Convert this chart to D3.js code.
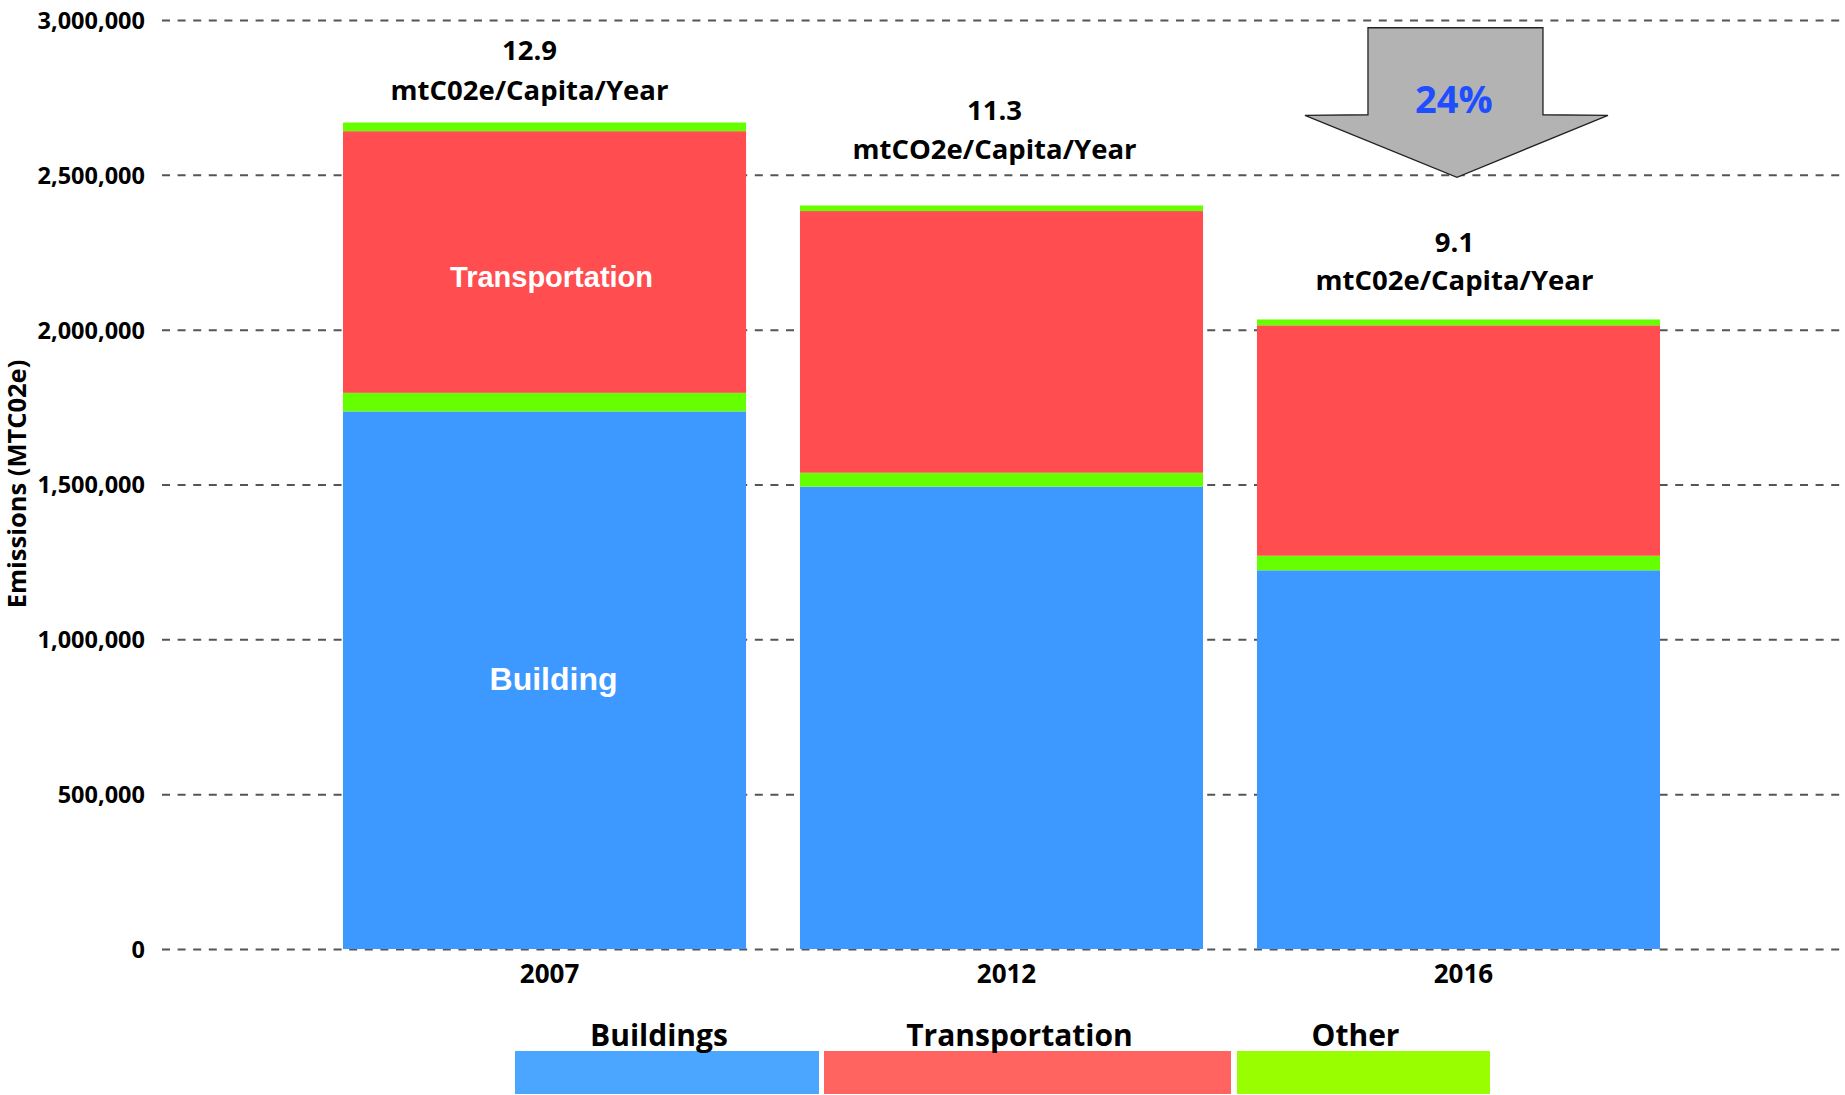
<!DOCTYPE html>
<html>
<head>
<meta charset="utf-8">
<script src="https://cdn.jsdelivr.net/npm/d3@7"></script>
<style>
  html, body { margin: 0; padding: 0; background: #fff; }
  svg { display: block; }
  text { font-family: "Open Sans", "Noto Sans", sans-serif; font-weight: 700; }
</style>
</head>
<body>
<svg id="chart" width="1845" height="1095"></svg>
<script>
// ---- data ----
const years = ["2007", "2012", "2016"];
const buildings      = [1736000, 1493000, 1223000];
const otherLower     = [60000, 45000, 47000];
const transportation = [845000, 845000, 744000];
const otherUpper     = [28000, 18000, 19000];
const perCapita      = ["12.9", "11.3", "9.1"];
const perCapitaUnits = ["mtC02e/Capita/Year", "mtCO2e/Capita/Year", "mtC02e/Capita/Year"];
const yTicks = [0, 500000, 1000000, 1500000, 2000000, 2500000, 3000000];
const legendLabels = ["Buildings", "Transportation", "Other"];
const reductionLabel = "24%";
const yTitle = "Emissions (MTC02e)";

// ---- layout ----
const W = 1845, H = 1095;
const svg = d3.select("#chart");
const colors = { buildings: "#3d99ff", otherLower: "#66ff00", transportation: "#ff4d50", otherUpper: "#66ff00" };
const legendColors = ["#4aa6ff", "#ff6461", "#99ff00"];

const x = d3.scaleBand().domain(years).range([343, 1660]).paddingInner(0.118).paddingOuter(0);
const y = d3.scaleLinear().domain([0, 3000000]).range([949, 20]);

// grid + y axis
const yAxis = d3.axisLeft(y).tickValues(yTicks).tickFormat(d3.format(",")).tickSize(-(W - 162)).tickPadding(17);
const gy = svg.append("g").attr("transform", "translate(162,0)").call(yAxis);
gy.select(".domain").remove();
gy.selectAll(".tick line").attr("stroke", "#555").attr("stroke-width", 2).attr("stroke-dasharray", "8,7.6");
gy.selectAll(".tick text").attr("fill", "#000").style("font-size", "23.5px").attr("dy", "0.36em");

// stacked bars
const keys = ["buildings", "otherLower", "transportation", "otherUpper"];
const rows = years.map((yr, i) => ({ year: yr, buildings: buildings[i], otherLower: otherLower[i], transportation: transportation[i], otherUpper: otherUpper[i] }));
const series = d3.stack().keys(keys)(rows);
svg.append("g").selectAll("g").data(series).join("g")
  .attr("fill", d => colors[d.key])
  .selectAll("rect").data(d => d).join("rect")
  .attr("x", d => x(d.data.year))
  .attr("width", x.bandwidth())
  .attr("y", d => y(d[1]))
  .attr("height", d => y(d[0]) - y(d[1]));

// x axis labels
const xAxis = d3.axisBottom(x).tickSize(0).tickPadding(16);
const gx = svg.append("g").attr("transform", "translate(5,949)").call(xAxis);
gx.select(".domain").remove();
gx.selectAll(".tick text").attr("fill", "#000").style("font-size", "26px");

// in-bar labels (2007 bar)
const b0 = x(years[0]) + x.bandwidth() / 2;
svg.append("text").attr("x", b0 + 7).attr("y", 287)
  .attr("text-anchor", "middle").attr("fill", "#fff")
  .style("font-family", "'Liberation Sans', Arial, sans-serif").style("font-size", "29px")
  .text("Transportation");
svg.append("text").attr("x", b0 + 9).attr("y", 690)
  .attr("text-anchor", "middle").attr("fill", "#fff")
  .style("font-family", "'Liberation Sans', Arial, sans-serif").style("font-size", "32px")
  .text("Building");

// per-capita annotations
const annoPos = [ { dx: -15, y1: 60, y2: 100 }, { dx: -7, y1: 120, y2: 159 }, { dx: -4, y1: 252, y2: 290 } ];
years.forEach((yr, i) => {
  const cx = x(yr) + x.bandwidth() / 2 + annoPos[i].dx;
  svg.append("text").attr("x", cx).attr("y", annoPos[i].y1).attr("text-anchor", "middle")
    .attr("fill", "#000").style("font-size", "27.5px").text(perCapita[i]);
  svg.append("text").attr("x", cx).attr("y", annoPos[i].y2).attr("text-anchor", "middle")
    .attr("fill", "#000").style("font-size", "27.5px").text(perCapitaUnits[i]);
});

// reduction arrow over 2016
const ac = x(years[2]) + x.bandwidth() / 2 - 1.5;
const arrowPts = [
  [ac - 89, y(2975000)], [ac + 86, y(2975000)], [ac + 86, y(2694000)],
  [ac + 151, y(2692000)], [ac, y(2492000)], [ac - 152, y(2692000)], [ac - 89, y(2694000)]
];
svg.append("path").attr("d", d3.line()(arrowPts) + "Z")
  .attr("fill", "#b3b3b3").attr("stroke", "#222").attr("stroke-width", 1.3);
svg.append("text").attr("x", ac - 3).attr("y", 113).attr("text-anchor", "middle")
  .attr("fill", "#1f4eff").style("font-size", "38px").text(reductionLabel);

// y title
svg.append("text").attr("transform", "translate(26,484) rotate(-90)")
  .attr("text-anchor", "middle").attr("fill", "#000").style("font-size", "25.5px").text(yTitle);

// legend
const legendRects = [ [515, 819], [824, 1231], [1237, 1490] ];
legendLabels.forEach((lab, i) => {
  const [x0, x1] = legendRects[i];
  svg.append("rect").attr("x", x0).attr("y", 1051).attr("width", x1 - x0).attr("height", 43).attr("fill", legendColors[i]);
  svg.append("text").attr("x", (x0 + x1) / 2 - 8).attr("y", 1046).attr("text-anchor", "middle")
    .attr("fill", "#000").style("font-size", "30px").text(lab);
});
</script>
</body>
</html>
